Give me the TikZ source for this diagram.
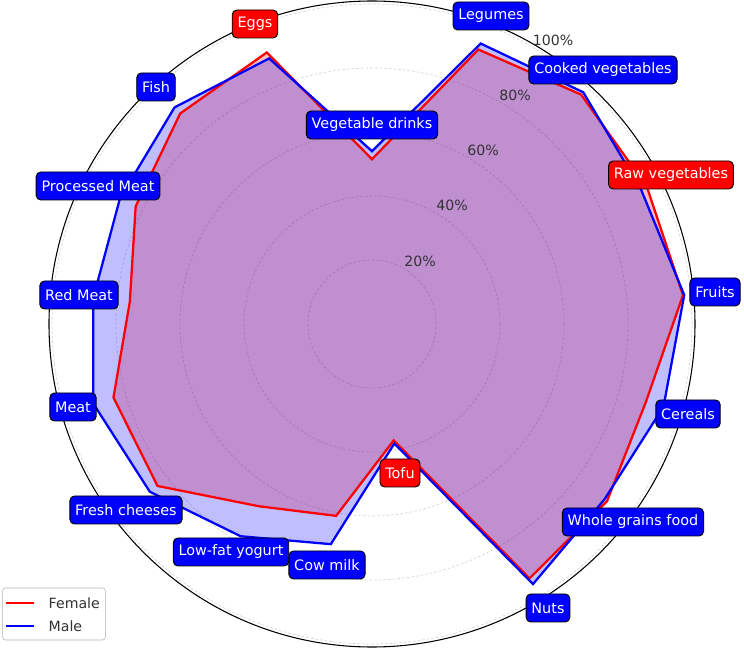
\documentclass[tikz,border=0pt]{standalone}
\usepackage{fontspec}
\setmainfont{DejaVu Sans}
\begin{document}
\begin{tikzpicture}[x=0.75pt,y=0.75pt,
  lbl/.style={draw=black,line width=0.7pt,rounded corners=3.5pt,text=white,font=\fontsize{10.8}{12}\selectfont,inner xsep=4pt,inner ysep=4pt,minimum height=21pt},
  bl/.style={lbl,fill=blue},
  rl/.style={lbl,fill=red},
  grid/.style={draw=black!17,dash pattern=on 2pt off 1.5pt,line width=0.5pt},
  pct/.style={text=black!80,font=\fontsize{10.6}{12}\selectfont}]
\useasboundingbox (-372,-326) rectangle (372,324);
\draw[black,line width=0.8pt] (0,0) circle (323);
\foreach \r in {20,40,60,80,100} \draw[grid] (0,0) circle ({3.2*\r});
\begin{scope}[x=2.4pt,y=2.4pt]
\def\fem{(90:51.5) -- (68.82:92) -- (47.65:97) -- (26.47:96) -- (5.29:97.6) -- (-15.88:89) -- (-37.06:92) -- (-58.24:93.5) -- (-79.41:37) -- (-100.59:61) -- (-121.76:67) -- (-142.94:84) -- (-164.12:84) -- (-185.29:76) -- (-206.47:82.5) -- (-227.65:89) -- (-248.82:91) -- cycle}
\def\mal{(90:54) -- (68.82:94) -- (47.65:98) -- (26.47:94) -- (5.29:98) -- (-15.88:94.7) -- (-37.06:91) -- (-58.24:95.6) -- (-79.41:38) -- (-100.59:70) -- (-121.76:78) -- (-142.94:87) -- (-164.12:90.6) -- (-185.29:87.5) -- (-206.47:88) -- (-227.65:91.6) -- (-248.82:89) -- cycle}
\fill[red,opacity=0.25] \fem;
\fill[blue,opacity=0.25] \mal;
\draw[red,line width=1.7pt,line join=miter] \fem;
\draw[blue,line width=1.7pt,line join=miter] \mal;
\end{scope}
\node[pct] (p20) at (48,63) {20\%};
\node[pct] (p40) at (80,119) {40\%};
\node[pct] (p60) at (111,174) {60\%};
\node[pct] (p80) at (143,229) {80\%};
\node[pct] (p100) at (181,284) {100\%};
\node[bl] (vd) at (0,199) {Vegetable drinks};
\node[bl] (leg) at (119,308) {Legumes};
\node[bl] (cv) at (231,254) {Cooked vegetables};
\node[rl] (rv) at (299,149) {Raw vegetables};
\node[bl] (fr) at (343,32) {Fruits};
\node[bl] (ce) at (316,-90) {Cereals};
\node[bl] (wg) at (261,-198) {Whole grains food};
\node[bl] (nu) at (176,-284) {Nuts};
\node[rl] (to) at (28,-149) {Tofu};
\node[bl] (cm) at (-45,-241) {Cow milk};
\node[bl] (ly) at (-141,-228) {Low-fat yogurt};
\node[bl] (fc) at (-246,-186) {Fresh cheeses};
\node[bl] (me) at (-299,-83) {Meat};
\node[bl] (rm) at (-293,29) {Red Meat};
\node[bl] (pm) at (-274,138) {Processed Meat};
\node[bl] (fi) at (-216,237) {Fish};
\node[rl] (eg) at (-117,300) {Eggs};
\node[draw=black!30,fill=white,rounded corners=2pt,minimum width=77pt,minimum height=39pt,inner sep=0] (lbox) at (-318,-290) {};
\coordinate (fa) at (-366,-279);
\coordinate (fb) at (-338,-279);
\coordinate (ma) at (-366,-302);
\coordinate (mb) at (-338,-302);
\draw[red,line width=1.7pt] (fa) -- (fb);
\draw[blue,line width=1.7pt] (ma) -- (mb);
\node[anchor=west,text=black!80,font=\fontsize{10.6}{12}\selectfont] (lf) at (-328,-279) {Female};
\node[anchor=west,text=black!80,font=\fontsize{10.6}{12}\selectfont] (lm) at (-328,-302) {Male};
\end{tikzpicture}
\end{document}
